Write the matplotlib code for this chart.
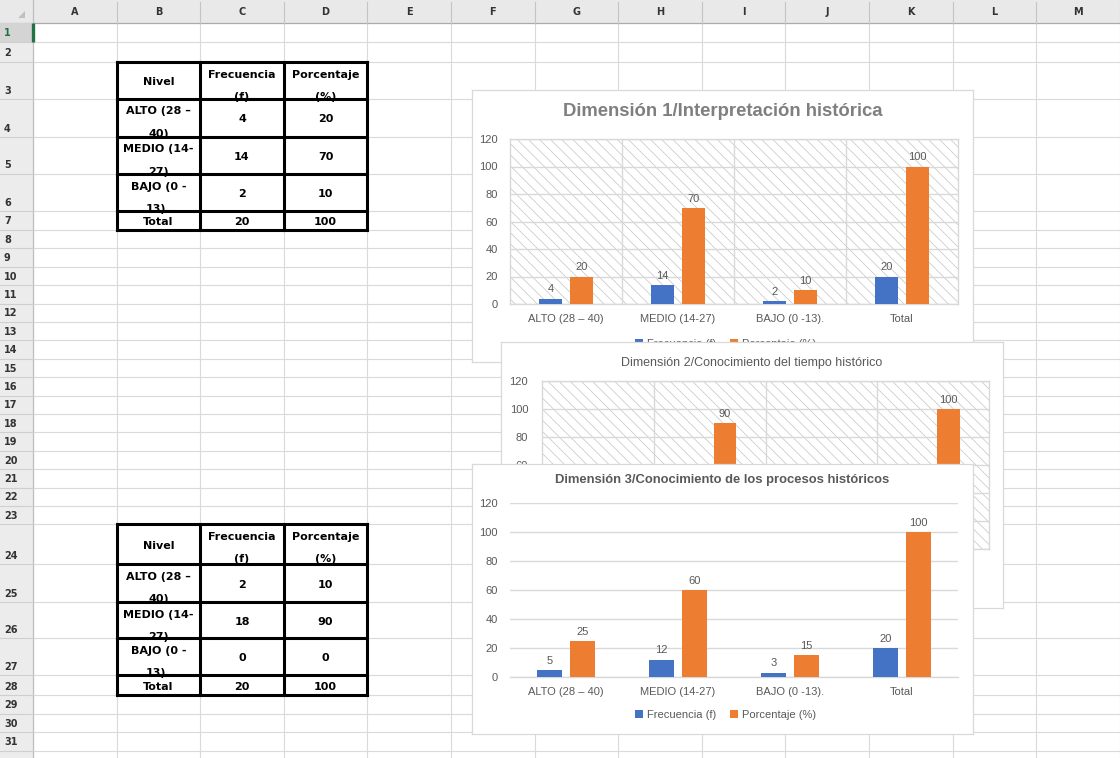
import matplotlib
matplotlib.use("Agg")
import matplotlib.pyplot as plt
from matplotlib.patches import Rectangle, Polygon
import numpy as np

W, H = 1120, 758

# chart / table values
categorias = ["ALTO (28 – 40)", "MEDIO (14-27)", "BAJO (0 -13).", "Total"]
niveles = [("ALTO (28 –", "40)"), ("MEDIO (14-", "27)"), ("BAJO (0 -", "13).")]
dim1_frec = [4, 14, 2, 20]
dim1_pct = [20, 70, 10, 100]
dim2_frec = [2, 18, 0, 20]
dim2_pct = [10, 90, 0, 100]
dim3_frec = [5, 12, 3, 20]
dim3_pct = [25, 60, 15, 100]
col_letters = list("ABCDEFGHIJKLM")
row_heights = [19, 20, 37, 38, 37, 37, 19] + [18.4] * 16 + [40, 38, 36, 37, 20] + [18.4] * 4

BLUE = "#4472c4"
ORANGE = "#ed7d31"
GREY_TXT = "#595959"
LINE = "#d9d9d9"

plt.rcParams["font.family"] = ["Liberation Sans", "DejaVu Sans"]
plt.rcParams["hatch.linewidth"] = 0.5

fig = plt.figure(figsize=(W / 100, H / 100), dpi=100)


def fbox(x0, y0, x1, y1):
    # pixel box (top-left origin) -> figure fraction
    return [x0 / W, 1 - y1 / H, (x1 - x0) / W, (y1 - y0) / H]


# ---------------- spreadsheet background ----------------
bg = fig.add_axes([0, 0, 1, 1])
bg.set_xlim(0, W)
bg.set_ylim(H, 0)
bg.axis("off")

col_x = [33 + 83.6 * i for i in range(14)]
row_y = [23]
for h in row_heights:
    row_y.append(row_y[-1] + h)

for x in col_x[1:]:
    bg.plot([x, x], [23, H], color="#dadada", lw=0.8, zorder=1)
for y in row_y[1:]:
    bg.plot([33, W], [y, y], color="#dadada", lw=0.8, zorder=1)

# column header band
bg.add_patch(Rectangle((0, 0), W, 23, facecolor="#e9e9e9", edgecolor="none", zorder=2))
bg.add_patch(Rectangle((0, 23), 33, H - 23, facecolor="#ececec", edgecolor="none", zorder=2))
bg.plot([0, W], [23, 23], color="#ababab", lw=0.9, zorder=3)
bg.plot([33, 33], [0, H], color="#bdbdbd", lw=0.9, zorder=3)
for x in col_x[1:]:
    bg.plot([x, x], [2, 23], color="#c4c4c4", lw=0.8, zorder=3)
for i, letra in enumerate(col_letters):
    bg.text((col_x[i] + col_x[i + 1]) / 2, 12, letra, ha="center", va="center",
            fontsize=7, fontweight="bold", color="#333333", family="DejaVu Sans", zorder=4)
bg.add_patch(Polygon([[25, 11], [25, 18], [18, 18]], closed=True, facecolor="#c0c0c0",
                     edgecolor="none", zorder=4))

# row headers
bg.add_patch(Rectangle((0, row_y[0]), 33, row_y[1] - row_y[0], facecolor="#d4d4d4",
                       edgecolor="none", zorder=3))
for i in range(len(row_heights)):
    y0, y1 = row_y[i], row_y[i + 1]
    bg.plot([0, 33], [y1, y1], color="#cfcfcf", lw=0.8, zorder=3)
    if y1 - 9 < H:
        bg.text(4, y1 - 8.5, str(i + 1), ha="left", va="center", fontsize=7, fontweight="bold",
                color="#217346" if i == 0 else "#333333", family="DejaVu Sans", zorder=4)
bg.plot([33, 33], [row_y[0], row_y[1]], color="#217346", lw=2.4, zorder=5,
        solid_capstyle="butt")


def cell_text(x0, x1, y0, y1, lines):
    clip = Rectangle((x0, y0), x1 - x0, y1 - y0, transform=bg.transData)
    if len(lines) == 1:
        ys = [(y0 + y1) / 2 + 1.5]
    else:
        ys = [y0 + 12.5, y0 + 35]
    for t, y in zip(lines, ys):
        txt = bg.text((x0 + x1) / 2, y, t, ha="center", va="center", fontsize=8,
                      fontweight="bold", color="black", family="DejaVu Sans", zorder=6)
        txt.set_clip_path(clip)


def draw_table(first_row, frec, pct):
    xs = col_x[1:5]
    ys = row_y[first_row:first_row + 6]
    header = [("Nivel",), ("Frecuencia", "(f)"), ("Porcentaje", "(%)")]
    for j in range(3):
        cell_text(xs[j], xs[j + 1], ys[0], ys[1], header[j])
    for i in range(3):
        cell_text(xs[0], xs[1], ys[i + 1], ys[i + 2], niveles[i])
        cell_text(xs[1], xs[2], ys[i + 1], ys[i + 2], (str(frec[i]),))
        cell_text(xs[2], xs[3], ys[i + 1], ys[i + 2], (str(pct[i]),))
    cell_text(xs[0], xs[1], ys[4], ys[5], ("Total",))
    cell_text(xs[1], xs[2], ys[4], ys[5], (str(frec[3]),))
    cell_text(xs[2], xs[3], ys[4], ys[5], (str(pct[3]),))
    bg.add_patch(Rectangle((xs[0], ys[0]), xs[3] - xs[0], ys[5] - ys[0], facecolor="white",
                           edgecolor="none", zorder=4))
    for x in xs:
        bg.plot([x, x], [ys[0], ys[5]], color="black", lw=2.2, zorder=7,
                solid_capstyle="projecting")
    for y in ys:
        bg.plot([xs[0], xs[3]], [y, y], color="black", lw=2.2, zorder=7,
                solid_capstyle="projecting")


draw_table(2, dim1_frec, dim1_pct)
draw_table(23, dim2_frec, dim2_pct)


# ---------------- charts ----------------
def make_chart(frame, plot, title, title_y, title_size, title_weight, title_color,
               frec, pct, hatched, legend_y, width, off, ypad, show_legend=True):
    fa = fig.add_axes(fbox(*frame))
    fa.set_xlim(frame[0], frame[2])
    fa.set_ylim(frame[3], frame[1])
    fa.set_xticks([])
    fa.set_yticks([])
    fa.set_facecolor("white")
    for s in fa.spines.values():
        s.set_color(LINE)
        s.set_linewidth(0.9)
    cx = (frame[0] + frame[2]) / 2
    fa.text(cx, title_y, title, ha="center", va="center", fontsize=title_size,
            fontweight=title_weight, color=title_color)

    pa = fig.add_axes(fbox(*plot))
    x = np.arange(len(categorias))
    b1 = pa.bar(x - off, frec, width, color=BLUE, zorder=3, label="Frecuencia (f)")
    b2 = pa.bar(x + off, pct, width, color=ORANGE, zorder=3, label="Porcentaje (%)")
    pa.bar_label(b1, padding=3, fontsize=8, color=GREY_TXT)
    pa.bar_label(b2, padding=3, fontsize=8, color=GREY_TXT)
    pa.set_xlim(-0.5, 3.5)
    pa.set_ylim(0, 120)
    pa.set_yticks(range(0, 121, 20))
    pa.set_xticks(x)
    pa.set_xticklabels(categorias)
    pa.tick_params(length=0, labelsize=8, colors=GREY_TXT)
    pa.tick_params(axis="y", pad=ypad)
    pa.tick_params(axis="x", pad=7)
    pa.set_axisbelow(True)
    pa.grid(axis="y", color=LINE, lw=1.0)
    pa.set_facecolor("white")
    if hatched:
        pa.add_patch(Rectangle((0, 0), 1, 1, transform=pa.transAxes, facecolor="white",
                               edgecolor="#c4c4c4", hatch="\\\\\\", lw=0, zorder=0))
        pa.set_xticks([0.5, 1.5, 2.5], minor=True)
        pa.tick_params(which="minor", length=0)
        pa.grid(axis="x", which="minor", color=LINE, lw=1.0)
        for s in pa.spines.values():
            s.set_color(LINE)
            s.set_linewidth(1.0)
    else:
        for k in ["left", "right", "top"]:
            pa.spines[k].set_visible(False)
        pa.spines["bottom"].set_color(LINE)
        pa.spines["bottom"].set_linewidth(1.0)

    if show_legend:
        fa.legend(handles=[b1, b2], loc="center", bbox_to_anchor=(cx + 3, legend_y),
                  bbox_transform=fa.transData, ncol=2, frameon=False, fontsize=8,
                  handlelength=0.7, handleheight=0.7, handletextpad=0.4,
                  columnspacing=1.2, labelcolor=GREY_TXT)
    return fa, pa


make_chart((472, 90, 973, 362), (510, 139, 958, 304),
           "Dimensión 1/Interpretación histórica", 112, 13.3, "bold", "#7f7f7f",
           dim1_frec, dim1_pct, True, 344, 0.2, 0.137, 9)

# chart 2 sits behind chart 3; its legend would be fully covered
make_chart((501, 342, 1003, 608), (542, 381, 989, 549),
           "Dimensión 2/Conocimiento del tiempo histórico", 363, 9, "normal", GREY_TXT,
           dim2_frec, dim2_pct, True, 585, 0.2, 0.137, 10, show_legend=False)

make_chart((472, 464, 973, 734), (510, 503, 958, 677),
           "Dimensión 3/Conocimiento de los procesos históricos", 480, 9.4, "bold", GREY_TXT,
           dim3_frec, dim3_pct, False, 715, 0.22, 0.145, 9)

fig.savefig("out.png", dpi=100)
